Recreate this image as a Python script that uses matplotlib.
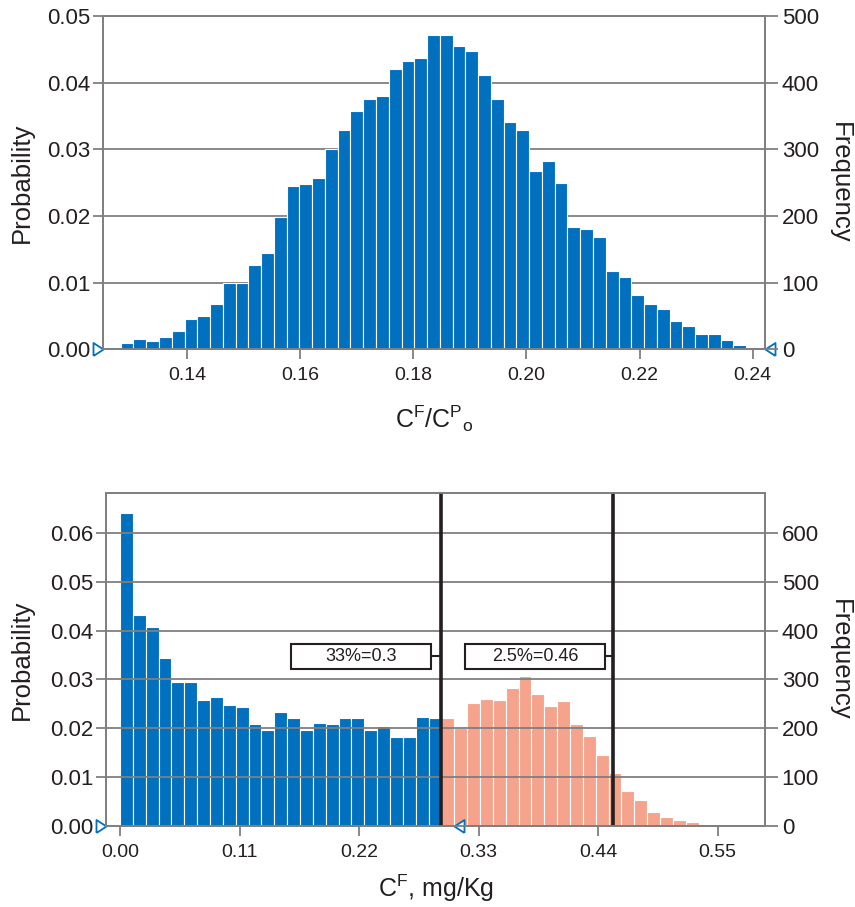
import numpy as np
import matplotlib
matplotlib.use('Agg')
import matplotlib.pyplot as plt
from matplotlib.patches import Rectangle

plt.rcParams['font.family'] = ['Liberation Sans', 'DejaVu Sans']
plt.rcParams['mathtext.fontset'] = 'custom'
plt.rcParams['mathtext.rm'] = 'Liberation Sans'

GREY = '#7f7f7f'
BLUE = '#0070bf'
SALMON = '#f5a38c'
INK = '#231f20'

N_TOTAL = 10000

# top panel: C^F / C^P_o
ratio_start = 0.1283
ratio_width = 0.002256
ratio_counts = [9, 16, 13, 18, 27, 45, 50, 68, 100, 100, 127, 145, 199, 245, 248,
                257, 300, 329, 358, 375, 380, 421, 433, 437, 471, 471, 455, 447,
                412, 376, 341, 329, 268, 282, 250, 184, 181, 168, 118, 109, 82,
                68, 60, 42, 35, 23, 23, 14, 7]
ratio_ticks = [0.14, 0.16, 0.18, 0.20, 0.22, 0.24]

# bottom panel: C^F, mg/Kg
conc_width = 0.01183
conc_counts = [641, 431, 407, 344, 295, 295, 257, 263, 247, 244, 208, 197, 233,
               221, 197, 211, 208, 221, 221, 197, 204, 183, 183, 223, 221,
               221, 200, 252, 260, 257, 283, 306, 270, 245, 255, 209, 184, 146,
               108, 71, 54, 29, 19, 12, 9, 4, 3]
n_below = 25
conc_ticks = [0.00, 0.11, 0.22, 0.33, 0.44, 0.55]
cut_lines = [0.295, 0.454]
cut_labels = ['33%=0.3', '2.5%=0.46']
box_left = [0.1574, 0.3176]
box_y = 0.0347
slider_x = 0.307

tri_r = [(-10, -6.5), (0, 0), (-10, 6.5), (-10, -6.5)]
tri_l = [(10, -6.5), (0, 0), (10, 6.5), (10, -6.5)]


def style(ax, ax2, ylim, ymax_f, yt, ft):
    for a in (ax, ax2):
        for s in a.spines.values():
            s.set_color(GREY)
            s.set_linewidth(1.3)
    ax.set_ylim(0, ylim)
    ax2.set_ylim(0, ymax_f)
    ax.set_yticks(yt)
    ax.set_yticklabels(['%.2f' % v for v in yt])
    ax2.set_yticks(ft)
    ax2.set_yticklabels([str(v) for v in ft])
    ax.tick_params(axis='y', direction='out', length=7, width=1.3, color=GREY,
                   labelsize=16, labelcolor=INK, pad=2)
    ax2.tick_params(axis='y', direction='out', length=9, width=1.3, color=GREY,
                    labelsize=16, labelcolor=INK, pad=3)
    ax.tick_params(axis='x', direction='out', length=7, width=1.3, color=GREY,
                   labelsize=14, labelcolor=INK, pad=6)
    ax.yaxis.grid(True, color=GREY, linewidth=1.3)
    ax.set_ylabel('Probability', fontsize=18.5, color=INK)
    ax2.set_ylabel('Frequency', fontsize=18.5, color=INK, rotation=270, va='center')


fig = plt.figure(figsize=(8.55, 9.07), dpi=100)

# ---- top
ax = fig.add_axes([0.1205, 0.6149, 0.7742, 0.3675])
ax2 = ax.twinx()
edges = ratio_start + ratio_width * np.arange(len(ratio_counts))
prob = np.array(ratio_counts) / N_TOTAL
ax.bar(edges, prob, width=ratio_width, align='edge', color=BLUE,
       edgecolor='white', linewidth=0.8, zorder=2)
ax.set_axisbelow(True)
xl = (0.12517, 0.24217)
ax.set_xlim(xl)
ax.set_xticks(ratio_ticks)
ax.set_xticklabels(['%.2f' % v for v in ratio_ticks])
style(ax, ax2, 0.05, 500, np.arange(0, 0.051, 0.01), [0, 100, 200, 300, 400, 500])
ax.yaxis.set_label_coords(-0.104, 0.5)
ax2.yaxis.set_label_coords(1.113, 0.5)
ax.plot([xl[0]], [0], marker=tri_r, ms=14.4, mfc='white', mec=BLUE, mew=1.3,
        clip_on=False, zorder=5)
ax.plot([xl[1]], [0], marker=tri_l, ms=14.4, mfc='white', mec=BLUE, mew=1.3,
        clip_on=False, zorder=5)
fig.text(0.5076, 1 - 419 / 907, r'C$^{\mathrm{F}}$/C$^{\mathrm{P}}$$_{\mathrm{o}}$',
         ha='center', va='center', fontsize=18, color=INK)

# ---- bottom
bx = fig.add_axes([0.124, 0.0893, 0.7707, 0.3675])
bx2 = bx.twinx()
edges = conc_width * np.arange(len(conc_counts))
prob = np.array(conc_counts) / N_TOTAL
colors = [BLUE if i < n_below else SALMON for i in range(len(conc_counts))]
bx.bar(edges, prob, width=conc_width, align='edge', color=colors,
       edgecolor='white', linewidth=0.8, zorder=1)
bx.set_axisbelow(False)
xl = (-0.0129, 0.5935)
bx.set_xlim(xl)
bx.set_xticks(conc_ticks)
bx.set_xticklabels(['%.2f' % v for v in conc_ticks])
style(bx, bx2, 0.0682, 682, np.arange(0, 0.061, 0.01), [0, 100, 200, 300, 400, 500, 600])
bx.yaxis.set_label_coords(-0.109, 0.5)
bx2.yaxis.set_label_coords(1.114, 0.5)
for g in bx.get_ygridlines():
    g.set_zorder(2.5)

for xc, lab, bl in zip(cut_lines, cut_labels, box_left):
    bx.axvline(xc, color=INK, linewidth=2.6, zorder=4)
    bw = 0.1285
    bh = 0.005
    bx.add_patch(Rectangle((bl, box_y - bh / 2), bw, bh, facecolor='white',
                           edgecolor=INK, linewidth=1.5, zorder=5))
    bx.plot([bl + bw, xc], [box_y, box_y], color=INK, linewidth=1.5, zorder=5)
    bx.text(bl + bw / 2, box_y, lab, ha='center', va='center', fontsize=13,
            color=INK, zorder=6)

bx.plot([xl[0]], [0], marker=tri_r, ms=14.4, mfc='white', mec=BLUE, mew=1.3,
        clip_on=False, zorder=6)
bx.plot([slider_x], [0], marker=tri_l, ms=14.4, mfc='white', mec=BLUE, mew=1.3,
        clip_on=False, zorder=6)
fig.text(0.5096, 1 - 888 / 907, r'C$^{\mathrm{F}}$, mg/Kg',
         ha='center', va='center', fontsize=18, color=INK)

fig.savefig('out.png', dpi=100)
